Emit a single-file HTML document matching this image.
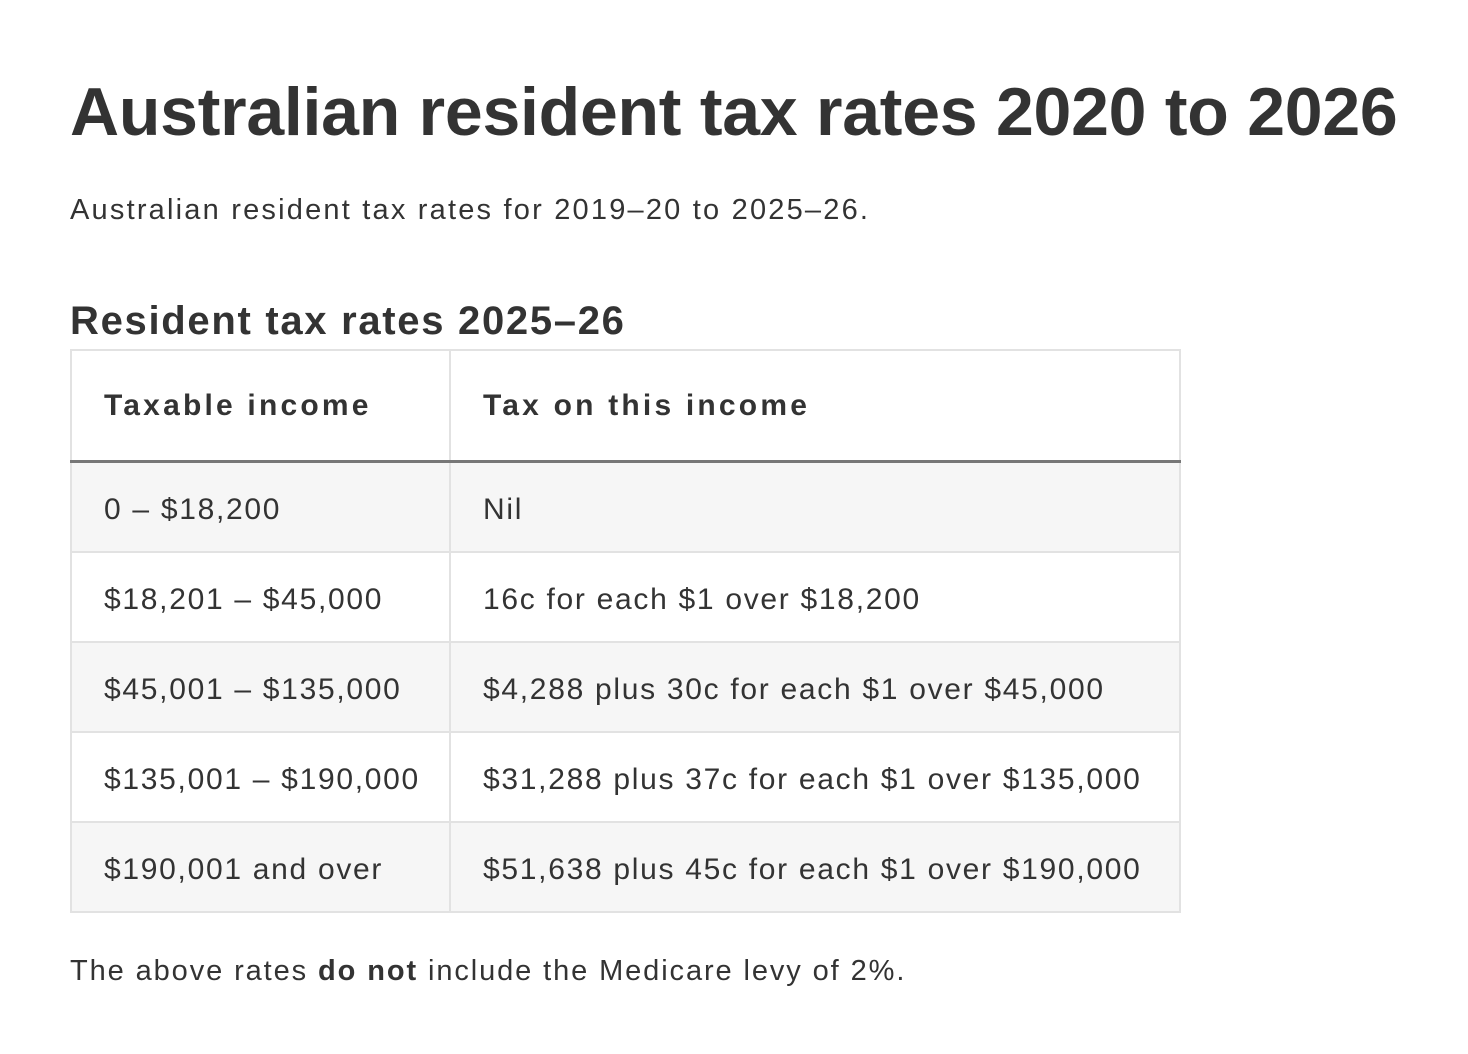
<!DOCTYPE html>
<html><head><meta charset="utf-8"><style>
body{margin:0;width:1468px;height:1054px;background:#fff;color:#333;font-family:"Liberation Sans",sans-serif;position:relative;overflow:hidden}
.a{position:absolute;white-space:nowrap}
h1{position:absolute;left:70px;top:70px;margin:0;font-size:68px;line-height:84px;font-weight:bold;color:#333;letter-spacing:-0.25px;white-space:nowrap}
.sub{left:70px;top:190px;font-size:29px;line-height:40px;letter-spacing:2.2px}
h2{position:absolute;left:70px;top:296px;margin:0;font-size:40px;line-height:50px;font-weight:bold;color:#333;letter-spacing:1.7px}
table{position:absolute;left:70px;top:349px;width:1111px;border-collapse:collapse;font-size:30px;letter-spacing:1.7px}
td,th{border:2px solid #e2e2e2;padding:0 0 0 32px;text-align:left;height:88px;white-space:nowrap}
td{padding-top:5px;height:83px}
th{height:109px;font-weight:bold;border-bottom:3px solid #777;letter-spacing:3.2px}
tr.g td{background:#f6f6f6}
.foot{left:70px;top:951px;font-size:29px;line-height:40px;letter-spacing:1.9px}
</style></head><body>
<h1>Australian resident tax rates 2020 to 2026</h1>
<div class="a sub">Australian resident tax rates for 2019–20 to 2025–26.</div>
<h2>Resident tax rates 2025–26</h2>
<table>
<tr><th style="width:345px">Taxable income</th><th>Tax on this income</th></tr>
<tr class="g"><td>0 – $18,200</td><td>Nil</td></tr>
<tr><td>$18,201 – $45,000</td><td>16c for each $1 over $18,200</td></tr>
<tr class="g"><td>$45,001 – $135,000</td><td>$4,288 plus 30c for each $1 over $45,000</td></tr>
<tr><td>$135,001 – $190,000</td><td>$31,288 plus 37c for each $1 over $135,000</td></tr>
<tr class="g"><td>$190,001 and over</td><td>$51,638 plus 45c for each $1 over $190,000</td></tr>
</table>
<div class="a foot">The above rates <b>do not</b> include the Medicare levy of 2%.</div>
</body></html>
